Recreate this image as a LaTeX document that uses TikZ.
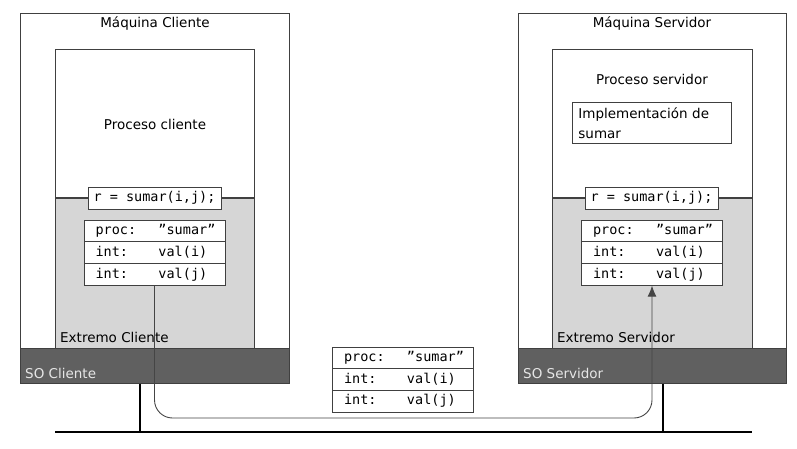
\documentclass[tikz,border=0pt]{standalone}
\usepackage{fontspec}
\setmainfont{DejaVu Sans}
\setmonofont{DejaVu Sans Mono}
\usetikzlibrary{arrows.meta}
\definecolor{borde}{HTML}{404040}
\definecolor{gris}{HTML}{D6D6D6}
\definecolor{grisso}{HTML}{606060}
\definecolor{textoso}{HTML}{E6E6E6}
\definecolor{enlace}{HTML}{454545}

\begin{document}
\begin{tikzpicture}[x=1pt,y=-1pt, font=\fontsize{13.5}{20}\selectfont,
  caja/.style={draw=borde, fill=white, line width=0.8pt, inner sep=0pt},
  fila/.style={caja, font=\ttfamily\fontsize{13.5}{20}\selectfont, minimum height=21.7,
    text width=118, inner xsep=11.5pt, align=left},
  sobox/.style={draw=borde, fill=grisso, line width=0.8pt, minimum width=268, minimum height=35, inner sep=0pt}]
\useasboundingbox (0,0) rectangle (797,449);

% maquina cliente
\node[caja, minimum width=269, minimum height=335, anchor=north west] (mcli) at (20,13) {};
\node (tmcli) at (155,24) {Máquina Cliente};
\node[caja, minimum width=199, minimum height=299, anchor=north west] (pcli) at (55,49) {};
\fill[gris] (55,198) rectangle (254,348);
\draw[borde, line width=0.8pt] (55,198) -- (55,348) (254,198) -- (254,348);
\draw[borde, line width=1.3pt] (55,198) -- (254,198);
\node (tpcli) at (155,124) {Proceso cliente};
\node[caja, font=\ttfamily\fontsize{13.5}{20}\selectfont, minimum width=133, minimum height=22] (llcli) at (154.5,198) {r = sumar(i,j);};
\node[fila] (ct1) at (154.5,231) {\makebox[63pt][l]{proc:}”sumar”};
\node[fila] (ct2) at (154.5,252.7) {\makebox[63pt][l]{int:}val(i)};
\node[fila] (ct3) at (154.5,274.4) {\makebox[63pt][l]{int:}val(j)};
\node[anchor=west, inner sep=0pt] (ecli) at (60,337) {Extremo Cliente};
\node[sobox, anchor=north west, minimum width=269] (socli) at (20,348) {};
\node[anchor=west, inner sep=0pt, textoso] (tsocli) at (25,373) {SO Cliente};

% maquina servidor
\node[caja, minimum width=268, minimum height=335, anchor=north west] (mser) at (518,13) {};
\node (tmser) at (652,24) {Máquina Servidor};
\node[caja, minimum width=200, minimum height=299, anchor=north west] (pser) at (552,49) {};
\fill[gris] (552,198) rectangle (752,348);
\draw[borde, line width=0.8pt] (552,198) -- (552,348) (752,198) -- (752,348);
\draw[borde, line width=1.3pt] (552,198) -- (752,198);
\node (tpser) at (652,79) {Proceso servidor};
\node[caja, anchor=north west, minimum height=41, text width=147, inner xsep=6pt, align=left] (impl) at (572,102) {Implementación de\\sumar};
\node[caja, font=\ttfamily\fontsize{13.5}{20}\selectfont, minimum width=133, minimum height=22] (llser) at (651.5,198) {r = sumar(i,j);};
\node[fila] (st1) at (652,231) {\makebox[63pt][l]{proc:}”sumar”};
\node[fila] (st2) at (652,252.7) {\makebox[63pt][l]{int:}val(i)};
\node[fila] (st3) at (652,274.4) {\makebox[63pt][l]{int:}val(j)};
\node[anchor=west, inner sep=0pt] (eser) at (557,337) {Extremo Servidor};
\node[sobox, anchor=north west] (soser) at (518,348) {};
\node[anchor=west, inner sep=0pt, textoso] (tsoser) at (523,373) {SO Servidor};

% mensaje en la red
\node[fila] (mt1) at (403,357.8) {\makebox[63pt][l]{proc:}”sumar”};
\node[fila] (mt2) at (403,379.5) {\makebox[63pt][l]{int:}val(i)};
\node[fila] (mt3) at (403,401.2) {\makebox[63pt][l]{int:}val(j)};

% red
\coordinate (redizq) at (55,432);
\coordinate (redder) at (752,432);
\coordinate (tcli) at (140,432);
\coordinate (tser) at (663,432);
\draw[line width=2.8pt] (redizq) -- (redder);
\draw[line width=2.8pt] (tcli |- socli.south) -- (tcli);
\draw[line width=2.8pt] (tser |- soser.south) -- (tser);

% camino del mensaje
\coordinate (bajo) at (400,418);
\draw[enlace, line width=0.9pt, rounded corners=18pt, -{Latex[length=11pt,width=9pt]}] (ct3.south) |- (bajo) -| (st3.south);

\end{tikzpicture}
\end{document}
